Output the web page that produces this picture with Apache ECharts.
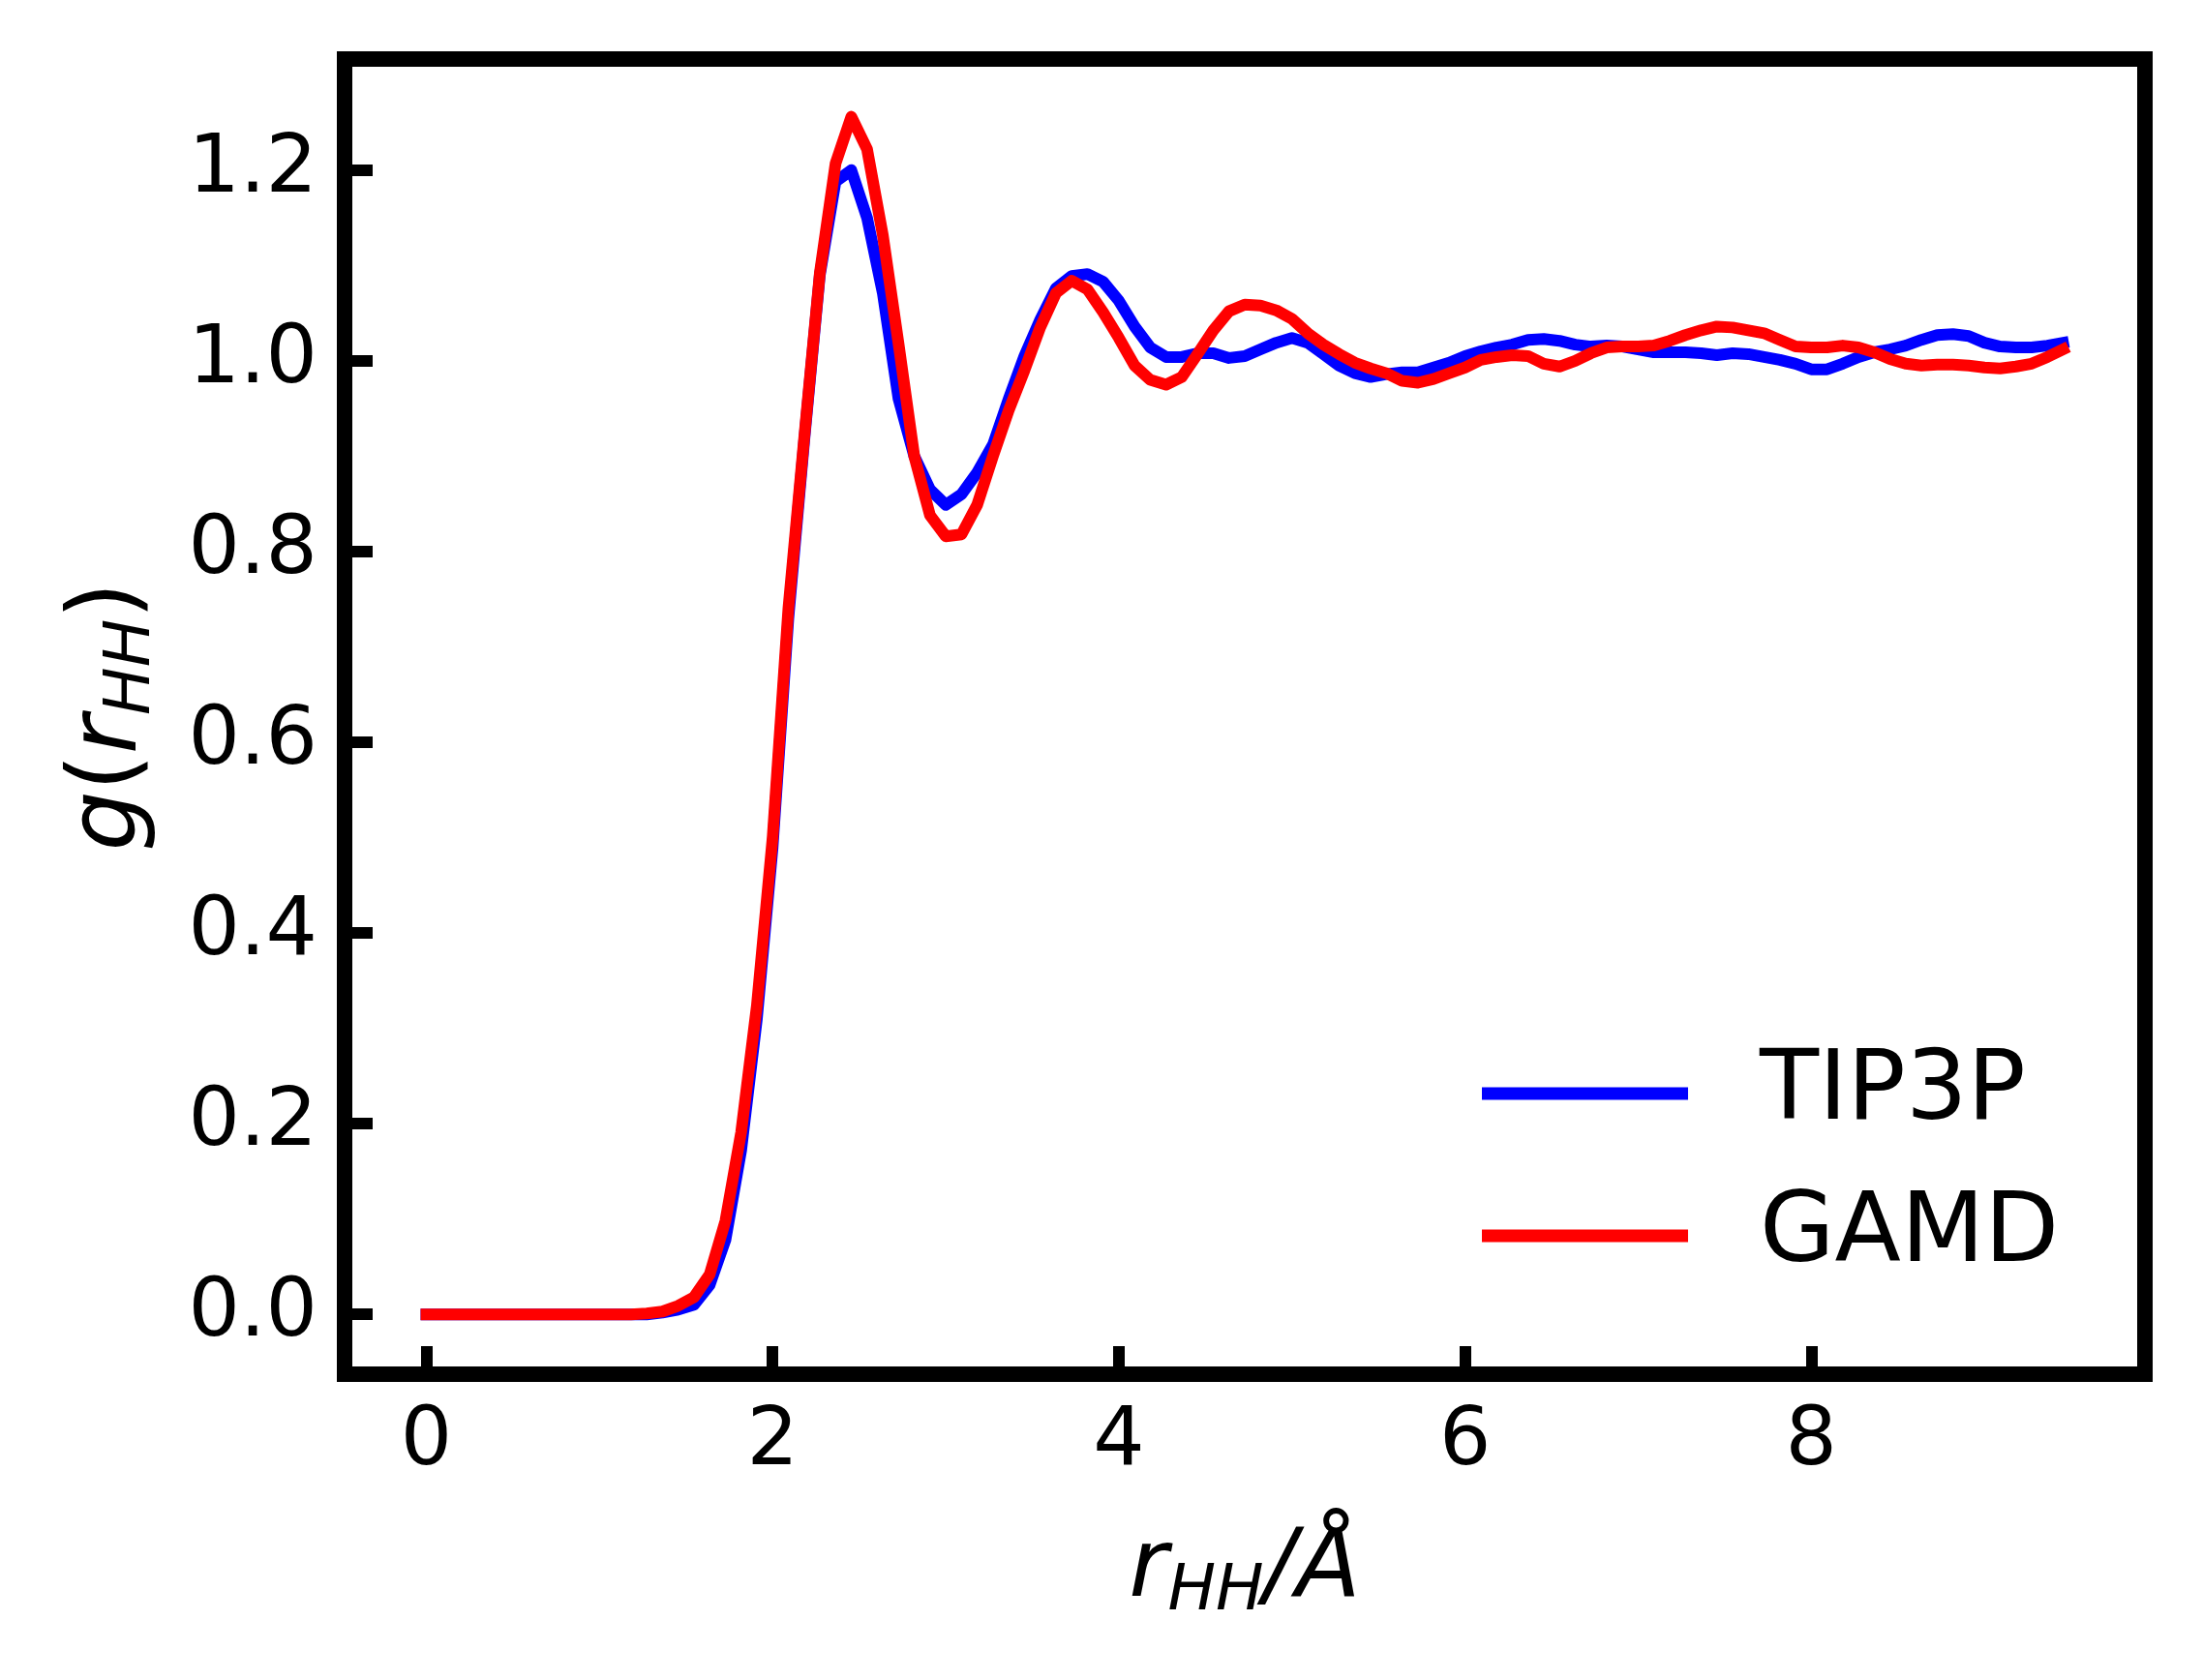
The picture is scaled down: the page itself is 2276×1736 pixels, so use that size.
<!DOCTYPE html>
<html><head><meta charset="utf-8">
<script src="https://cdn.jsdelivr.net/npm/echarts@6/dist/echarts.min.js"></script>
<style>html,body{margin:0;padding:0;background:#fff}#c{width:2276px;height:1736px}</style>
</head><body><div id="c"></div>
<script>
// r_HH grid (Å)
const r = [0, 0.0909, 0.1818, 0.2727, 0.3636, 0.4545, 0.5455, 0.6364, 0.7273, 0.8182, 0.9091,
  1.0, 1.0909, 1.1818, 1.2727, 1.3636, 1.4545, 1.5455, 1.6364, 1.7273, 1.8182, 1.9091,
  2.0, 2.0909, 2.1818, 2.2727, 2.3636, 2.4545, 2.5455, 2.6364, 2.7273, 2.8182, 2.9091,
  3.0, 3.0909, 3.1818, 3.2727, 3.3636, 3.4545, 3.5455, 3.6364, 3.7273, 3.8182, 3.9091,
  4.0, 4.0909, 4.1818, 4.2727, 4.3636, 4.4545, 4.5455, 4.6364, 4.7273, 4.8182, 4.9091,
  5.0, 5.0909, 5.1818, 5.2727, 5.3636, 5.4545, 5.5455, 5.6364, 5.7273, 5.8182, 5.9091,
  6.0, 6.0909, 6.1818, 6.2727, 6.3636, 6.4545, 6.5455, 6.6364, 6.7273, 6.8182, 6.9091,
  7.0, 7.0909, 7.1818, 7.2727, 7.3636, 7.4545, 7.5455, 7.6364, 7.7273, 7.8182, 7.9091,
  8.0, 8.0909, 8.1818, 8.2727, 8.3636, 8.4545, 8.5455, 8.6364, 8.7273, 8.8182, 8.9091,
  9.0, 9.0909, 9.1818, 9.2727, 9.3636, 9.4545];

const tip3p = [0,0,0,0,0,0,0,0,0,0,0,0,0,0,
  0.000, 0.002, 0.005, 0.010, 0.031, 0.078, 0.172,
  0.310, 0.490, 0.730, 0.915, 1.090, 1.188, 1.200,
  1.150, 1.071, 0.960, 0.900, 0.865, 0.849, 0.860,
  0.883, 0.912, 0.960, 1.005, 1.043, 1.076, 1.089,
  1.091, 1.083, 1.063, 1.036, 1.014, 1.004, 1.004,
  1.008, 1.008, 1.003, 1.005, 1.012, 1.019, 1.024,
  1.019, 1.007, 0.995, 0.987, 0.983, 0.986, 0.988,
  0.988, 0.993, 0.998, 1.005, 1.010, 1.014, 1.017,
  1.022, 1.023, 1.021, 1.017, 1.015, 1.016, 1.015,
  1.012, 1.009, 1.009, 1.009, 1.008, 1.006, 1.008,
  1.007, 1.004, 1.001, 0.997, 0.991, 0.991, 0.997,
  1.004, 1.009, 1.012, 1.016, 1.022, 1.027, 1.028,
  1.026, 1.019, 1.015, 1.014, 1.014, 1.016, 1.019];

const gamd = [0,0,0,0,0,0,0,0,0,0,0,0,0,0,
  0.001, 0.003, 0.009, 0.018, 0.042, 0.098, 0.191,
  0.324, 0.500, 0.740, 0.918, 1.092, 1.207, 1.256,
  1.222, 1.132, 1.018, 0.900, 0.838, 0.816, 0.818,
  0.849, 0.900, 0.948, 0.990, 1.035, 1.071, 1.084,
  1.075, 1.051, 1.024, 0.995, 0.980, 0.975, 0.983,
  1.007, 1.032, 1.052, 1.059, 1.058, 1.053, 1.044,
  1.029, 1.017, 1.007, 0.998, 0.992, 0.987, 0.979,
  0.977, 0.981, 0.987, 0.993, 1.001, 1.004, 1.006,
  1.005, 0.997, 0.994, 1.000, 1.008, 1.014, 1.015,
  1.015, 1.016, 1.021, 1.027, 1.032, 1.036, 1.035,
  1.032, 1.029, 1.022, 1.015, 1.014, 1.014, 1.016,
  1.014, 1.009, 1.002, 0.997, 0.995, 0.996, 0.996,
  0.995, 0.993, 0.992, 0.994, 0.997, 1.004, 1.012];

const xTicks = [0, 2, 4, 6, 8];
const yTicks = [0, 0.2, 0.4, 0.6, 0.8, 1.0, 1.2];
const seriesNames = ['TIP3P', 'GAMD'];
const seriesColors = ['#0000ff', '#ff0000'];

const FONT = 'DejaVu Sans';
const titleRich = {
  m: {fontSize: 98, fontStyle: 'italic', fontFamily: FONT, color: '#000', lineHeight: 110},
  p: {fontSize: 98, fontFamily: FONT, color: '#000', lineHeight: 110},
  s: {fontSize: 66, fontStyle: 'italic', fontFamily: FONT, color: '#000', lineHeight: 72, verticalAlign: 'bottom'}
};

const pairs = (ys) => r.map((x, i) => [x, ys[i]]);

const chart = echarts.init(document.getElementById('c'), null, {renderer: 'canvas', width: 2276, height: 1736});
chart.setOption({
  animation: false,
  backgroundColor: '#ffffff',
  grid: {left: 356, right: 60, top: 61, bottom: 316, show: true, borderColor: '#000', borderWidth: 16, backgroundColor: 'transparent'},
  xAxis: {
    type: 'value', min: -0.4727, max: 9.9273,
    axisLine: {show: false, onZero: false}, splitLine: {show: false},
    axisTick: {show: true, inside: true, length: 29, lineStyle: {color: '#000', width: 12}, customValues: xTicks},
    axisLabel: {customValues: xTicks, color: '#000', fontSize: 84, fontFamily: FONT, margin: 29, formatter: v => String(v)},
    name: '{m|r}{s|HH}{m|/Å}', nameLocation: 'middle', nameGap: 149,
    nameTextStyle: {rich: titleRich}
  },
  yAxis: {
    type: 'value', min: -0.0627, max: 1.3165,
    axisLine: {show: false, onZero: false}, splitLine: {show: false},
    axisTick: {show: true, inside: true, length: 29, lineStyle: {color: '#000', width: 12}, customValues: yTicks},
    axisLabel: {customValues: yTicks, color: '#000', fontSize: 84, fontFamily: FONT, margin: 28, formatter: v => v.toFixed(1)},
    name: '{m|g}{p|(}{m|r}{s|HH}{p|)}', nameLocation: 'middle', nameGap: 186, nameRotate: 90,
    nameTextStyle: {rich: titleRich}
  },
  legend: {
    data: seriesNames, orient: 'vertical', left: 1526, top: 1075,
    icon: 'rect', itemWidth: 213, itemHeight: 13, itemGap: 47,
    textStyle: {fontSize: 100, fontFamily: FONT, color: '#000', lineHeight: 100, padding: [0, 0, 0, 69]}
  },
  series: [
    {name: seriesNames[0], type: 'line', data: pairs(tip3p), showSymbol: false, symbol: 'none',
     color: seriesColors[0], lineStyle: {width: 12, color: seriesColors[0], cap: 'square', join: 'round'}},
    {name: seriesNames[1], type: 'line', data: pairs(gamd), showSymbol: false, symbol: 'none',
     color: seriesColors[1], lineStyle: {width: 12, color: seriesColors[1], cap: 'square', join: 'round'}}
  ]
});
</script></body></html>
